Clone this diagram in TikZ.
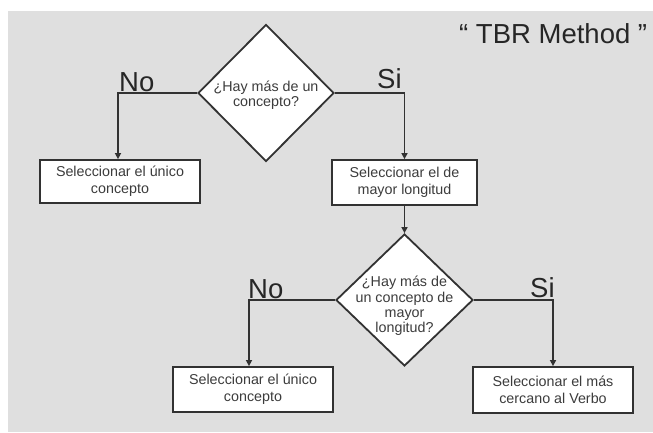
\documentclass[tikz,border=0pt]{standalone}
\usepackage{fontspec}
\setmainfont{Liberation Sans}
\usetikzlibrary{shapes.geometric,arrows.meta}
\definecolor{bgc}{RGB}{223,223,223}
\definecolor{lnc}{RGB}{50,50,50}
\definecolor{txc}{RGB}{60,60,60}
\definecolor{bigc}{RGB}{38,38,38}
\tikzset{
  proc/.style={draw=lnc, line width=1.8pt, fill=white, inner sep=0pt, align=center,
    text=txc, font=\fontsize{14.3}{16.8}\selectfont},
  decision/.style={draw=lnc, line width=1.8pt, fill=white, shape=diamond, inner sep=0pt},
  dtext/.style={align=center, text=txc, inner sep=0pt, font=\fontsize{14.3}{15.2}\selectfont},
  conn/.style={draw=lnc, line width=1.7pt, -{Triangle[width=6pt,length=6pt]}},
  biglabel/.style={text=bigc, inner sep=0pt, anchor=base west, font=\fontsize{27.5}{30}\selectfont}
}
\begin{document}
\begin{tikzpicture}[x=1pt,y=-1pt]
\useasboundingbox (0,0) rectangle (653,432);
\fill[bgc] (8,11) rectangle (653,432);

\node[biglabel] (title) at (459,43) {“ TBR Method ”};

\node[decision, minimum width=136pt, minimum height=137pt] (d1) at (266,93) {};
\node[dtext] (t1) at (266,95) {¿Hay más de un\\concepto?};

\node[proc, minimum width=160pt, minimum height=43pt] (b1) at (120,181.5) {Seleccionar el único\\concepto};
\node[proc, minimum width=145pt, minimum height=45pt] (b2) at (404.5,182.5) {Seleccionar el de\\mayor longitud};

\node[decision, minimum width=137pt, minimum height=132pt] (d2) at (404.5,300) {};
\node[dtext] (t2) at (404.5,306) {¿Hay más de\\un concepto de\\mayor\\longitud?};

\node[proc, minimum width=160pt, minimum height=45pt] (b3) at (253,389.5) {Seleccionar el único\\concepto};
\node[proc, minimum width=160pt, minimum height=46pt] (b4) at (553,390) {Seleccionar el más\\cercano al Verbo};

\coordinate (c1) at (118,93);
\coordinate (c2) at (404.5,93);
\coordinate (c3) at (249,300);
\coordinate (c4) at (553,300);

\draw[conn] (d1.west) -- (c1) -- (c1 |- b1.north);
\draw[conn] (d1.east) -- (c2) -- (b2.north);
\draw[conn] (b2.south) -- (d2.north);
\draw[conn] (d2.west) -- (c3) -- (c3 |- b3.north);
\draw[conn] (d2.east) -- (c4) -- (b4.north);

\node[biglabel] (no1) at (119,91) {No};
\node[biglabel] (si1) at (377,88) {Si};
\node[biglabel] (no2) at (248,298) {No};
\node[biglabel] (si2) at (530,297) {Si};
\end{tikzpicture}
\end{document}
